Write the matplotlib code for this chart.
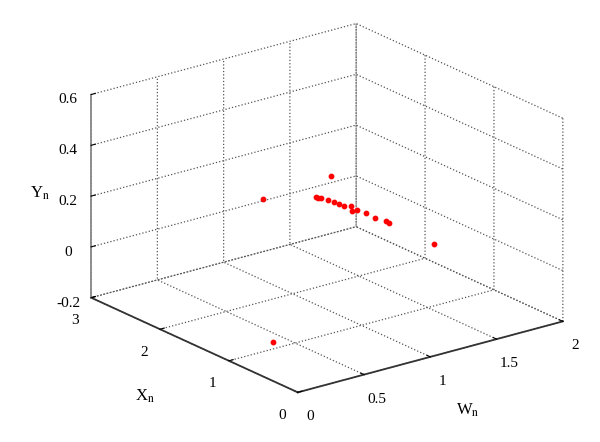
import numpy as np
import matplotlib.pyplot as plt

plt.rcParams['font.family'] = ['Liberation Serif', 'DejaVu Serif']
plt.rcParams['mathtext.fontset'] = 'stix'
plt.rcParams['grid.linestyle'] = ':'
plt.rcParams['grid.color'] = '#555555'
plt.rcParams['grid.linewidth'] = 0.9

# data points (W_n, X_n, Y_n)
w_n = [1.177, 1.192, 1.215, 1.268, 1.313, 1.351, 1.389, 1.442, 1.449, 1.487,
       1.555, 1.623, 1.706, 1.728, 1.808, 1.038, 1.291, 0.40]
x_n = [2.0, 2.0, 2.0, 2.0, 2.0, 2.0, 2.0, 2.0, 2.0, 2.0,
       2.0, 2.0, 2.0, 2.0, 1.5, 2.5, 2.0, 1.13]
y_n = [0.157, 0.151, 0.148, 0.133, 0.119, 0.106, 0.093, 0.082, 0.065, 0.060,
       0.039, 0.010, -0.013, -0.024, -0.055, 0.107, 0.223, -0.2]

w_ticks = [0, 0.5, 1, 1.5, 2]
x_ticks = [0, 1, 2, 3]
y_ticks = [-0.2, 0, 0.2, 0.4, 0.6]

fig = plt.figure(figsize=(6, 4.42), dpi=100)
ax = fig.add_axes([0.035, 0.016, 1.0, 1.0], projection='3d', proj_type='ortho')
ax.view_init(elev=20.5, azim=-127.4)
ax.set_box_aspect((1, 1.02, 0.65), zoom=1.15)

ax.scatter(w_n, x_n, y_n, color='red', s=10, depthshade=False)

ax.set_xlim(0, 2)
ax.set_ylim(0, 3)
ax.set_zlim(-0.2, 0.6)
ax.set_xticks(w_ticks)
ax.set_yticks(x_ticks)
ax.set_zticks(y_ticks)
ax.set_xticklabels(['0', '0.5', '1', '1.5', '2'], fontsize=11)
ax.set_yticklabels(['0', '1', '2', '3'], fontsize=11)
ax.set_zticklabels(['-0.2', '0', '0.2', '0.4', '0.6'], fontsize=11)
ax.tick_params(axis='z', pad=0)
ax.tick_params(axis='x', pad=2)
ax.tick_params(axis='y', pad=2)

for axis in (ax.xaxis, ax.yaxis, ax.zaxis):
    axis.set_pane_color((1, 1, 1, 0))
    axis.pane.set_edgecolor('none')
    axis.set_rotate_label(False)
    axis._axinfo['tick']['inward_factor'] = 0.0
    axis._axinfo['tick']['outward_factor'] = 0.2
ax.xaxis.line.set_color('#333333')
ax.yaxis.line.set_color('#333333')
ax.zaxis.line.set_color('#888888')
ax.xaxis.line.set_linewidth(1.3)
ax.yaxis.line.set_linewidth(1.3)
ax.zaxis.line.set_linewidth(1.3)

ax.set_xlabel(r'W$_{\mathrm{n}}$', fontsize=12, labelpad=9)
ax.set_ylabel(r'X$_{\mathrm{n}}$', fontsize=12, labelpad=10)
ax.set_zlabel(r'Y$_{\mathrm{n}}$', fontsize=12, labelpad=-3)

fig.savefig('out.png', dpi=100)
